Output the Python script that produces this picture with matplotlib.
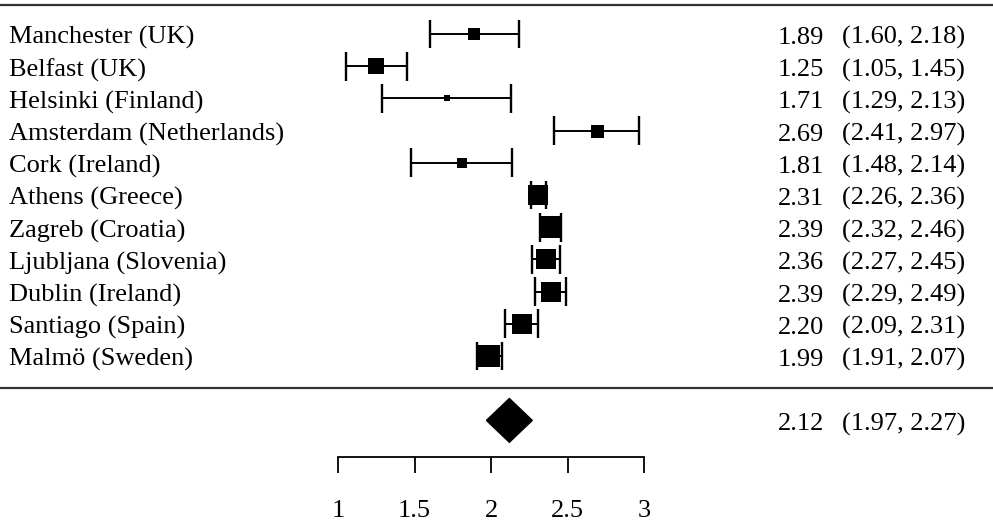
import matplotlib
matplotlib.use("Agg")
import matplotlib.pyplot as plt
import numpy as np
from matplotlib.patches import Polygon

plt.rcParams["font.family"] = ["Liberation Serif", "DejaVu Serif"]

# study data
cities = [
    "Manchester (UK)", "Belfast (UK)", "Helsinki (Finland)", "Amsterdam (Netherlands)",
    "Cork (Ireland)", "Athens (Greece)", "Zagreb (Croatia)", "Ljubljana (Slovenia)",
    "Dublin (Ireland)", "Santiago (Spain)", "Malmö (Sweden)",
]
estimates = [1.89, 1.25, 1.71, 2.69, 1.81, 2.31, 2.39, 2.36, 2.39, 2.20, 1.99]
lower = [1.60, 1.05, 1.29, 2.41, 1.48, 2.26, 2.32, 2.27, 2.29, 2.09, 1.91]
upper = [2.18, 1.45, 2.13, 2.97, 2.14, 2.36, 2.46, 2.45, 2.49, 2.31, 2.07]
# relative box weights
weights = [11, 15, 6, 12, 9, 18, 20, 18, 19, 18, 20]

pooled_est, pooled_lo, pooled_hi = 2.12, 1.97, 2.27
ticks = [1, 1.5, 2, 2.5, 3]
tick_labels = ["1", "1.5", "2", "2.5", "3"]

fig = plt.figure(figsize=(9.93, 5.32), dpi=100)
ax = fig.add_axes([0, 0, 1, 1])
ax.set_xlim(1 - 338 / 153, 1 + (993 - 338) / 153)
ax.set_ylim(15.466, -1.056)
ax.axis("off")

FS = 19
tr = ax.get_yaxis_transform()

for i, (name, est, lo, hi, w) in enumerate(zip(cities, estimates, lower, upper, weights)):
    ax.plot([lo, hi], [i, i], color="black", lw=1.4, solid_capstyle="butt")
    ax.vlines([lo, hi], i - 0.45, i + 0.45, color="black", lw=1.7)
    ax.plot(est, i, marker="s", color="black", markersize=w * 0.78, markeredgewidth=0)
    ax.text(0.009, i + 0.31, name, transform=tr, fontsize=FS, va="baseline", ha="left")
    ax.text(0.7835, i + 0.31, f"{est:.2f}", transform=tr, fontsize=FS, va="baseline", ha="left")
    ax.text(0.848, i + 0.31, f"({lo:.2f}, {hi:.2f})", transform=tr, fontsize=FS,
            va="baseline", ha="left")

# separator lines
ax.axhline(-0.9, color="#333333", lw=1.6)
ax.axhline(len(cities), color="#333333", lw=1.6)

# pooled diamond
py = len(cities) + 1
diamond = Polygon([[pooled_lo, py], [pooled_est, py - 0.68], [pooled_hi, py],
                   [pooled_est, py + 0.68]], closed=True, color="black")
ax.add_patch(diamond)
ax.text(0.7835, py + 0.31, f"{pooled_est:.2f}", transform=tr, fontsize=FS, va="baseline")
ax.text(0.848, py + 0.31, f"({pooled_lo:.2f}, {pooled_hi:.2f})", transform=tr, fontsize=FS,
        va="baseline")

# x scale
axis_y = 13.14
ax.plot([ticks[0], ticks[-1]], [axis_y, axis_y], color="black", lw=1.3)
ax.vlines(ticks, axis_y, axis_y + 0.5, color="black", lw=1.3)
for t, lab in zip(ticks, tick_labels):
    ax.text(t, 15.0, lab, fontsize=FS, ha="center", va="baseline")

fig.savefig("out.png", dpi=100)
